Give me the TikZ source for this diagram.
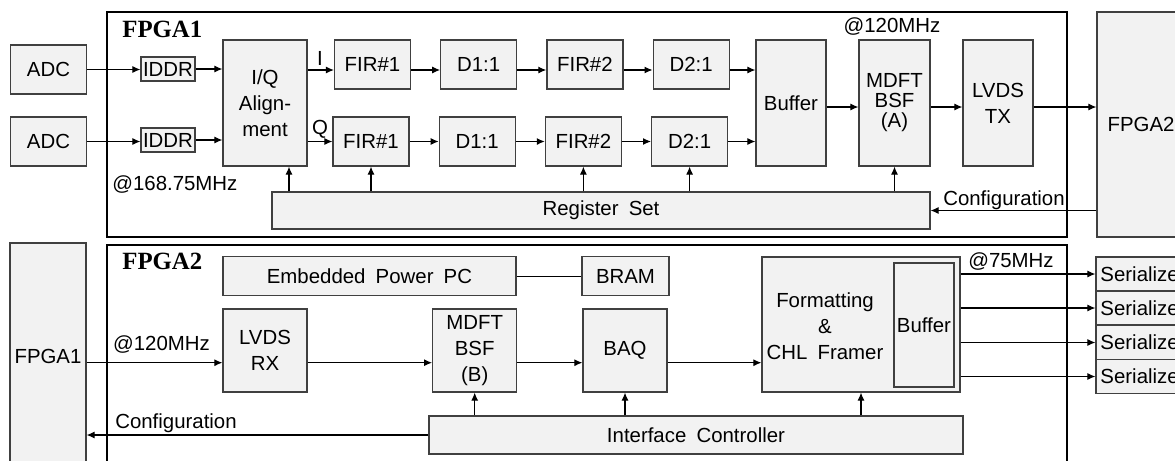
\documentclass[tikz,border=0pt]{standalone}
\usepackage{fontspec}
\setmainfont{Liberation Sans}[WordSpace=1.8]
\newfontfamily\titlefont{Liberation Serif}
\usepackage{tikz}
\usetikzlibrary{arrows.meta,positioning,calc}

\begin{document}
\begin{tikzpicture}[x=0.5pt,y=-0.5pt,
  every node/.style={font=\fontsize{10.2}{13}\selectfont},
  blk/.style={draw=black!75,fill=black!5,line width=0.6pt,inner sep=0pt,align=center},
  sbox/.style={blk,minimum width=38pt,minimum height=24.5pt},
  tbox/.style={blk,minimum width=35pt,minimum height=63pt},
  mbox/.style={blk,minimum width=42pt,minimum height=41.5pt},
  serbox/.style={blk,minimum width=47pt,minimum height=17pt},
  frame/.style={draw=black,line width=1pt},
  txt/.style={inner sep=0pt,align=center},
  tag/.style={inner sep=0pt,anchor=west,font=\titlefont\bfseries\fontsize{12.4}{14}\selectfont},
  arr/.style={draw,line width=0.55pt,-{Latex[length=4pt,width=3.5pt]}}]
\useasboundingbox (0,0) rectangle (1175,461);
\clip (0,0) rectangle (1175,461);

\draw[frame] (107,12) rectangle (1067,237);
\draw[frame] (107,245) rectangle (1067,480);
\node[tag] (tagA) at (122,29) {FPGA1};
\node[tag] (tagB) at (122,261) {FPGA2};

% FPGA1
\node[sbox] (adcA) at (48.5,69.5) {ADC};
\node[sbox] (adcB) at (48.5,141.5) {ADC};
\node[blk,minimum width=27pt,minimum height=12pt] (iddrA) at (168,69) {IDDR};
\node[blk,minimum width=27pt,minimum height=12pt] (iddrB) at (168,140) {IDDR};
\node[blk,minimum width=42pt,minimum height=63pt] (iq) at (265,103) {I/Q\\Align-\\ment};
\node[sbox] (firA) at (372.5,64.5) {FIR\#1};
\node[sbox,right=14.5pt of firA] (dA) {D1:1};
\node[sbox,right=14.5pt of dA] (fir2A) {FIR\#2};
\node[sbox,right=14.5pt of fir2A] (d2A) {D2:1};
\node[sbox] (firB) at (371,141.5) {FIR\#1};
\node[sbox,right=14.5pt of firB] (dB) {D1:1};
\node[sbox,right=14.5pt of dB] (fir2B) {FIR\#2};
\node[sbox,right=14.5pt of fir2B] (d2B) {D2:1};
\node[tbox] (buf) at (791,103) {Buffer};
\node[tbox,minimum width=35.5pt] (mdftA) at (894.5,103) {MDFT\\[-3pt]BSF\\[-3pt](A)};
\node[tbox] (lvdsTX) at (998,103) {LVDS\\TX};
\node[blk,minimum width=44pt,minimum height=112.5pt] (fpgaR) at (1141,124.5) {FPGA2};
\node[blk,minimum width=329pt,minimum height=18.5pt] (reg) at (601,210.5) {Register Set};

\node[txt] (lblI) at (320,58) {I};
\node[txt] (lblQ) at (320,129) {Q};
\node[txt,anchor=west] (clkA) at (112,185) {@168.75MHz};
\node[txt] (clkB) at (892,27) {@120MHz};
\node[txt] (cfgA) at (1004,200) {Configuration};

\coordinate (rowI) at (0,70);
\coordinate (rowA) at (0,107);
\coordinate (regI) at (289,0);

\draw[arr] (adcA.east) -- (adcA.east -| iddrA.west);
\draw[arr] (adcB.east) -- (adcB.east -| iddrB.west);
\draw[arr] (iddrA.east) -- (iddrA.east -| iq.west);
\draw[arr] (iddrB.east) -- (iddrB.east -| iq.west);
\draw[arr] (iq.east |- rowI) -- (firA.west |- rowI);
\draw[arr] (firA.east |- rowI) -- (dA.west |- rowI);
\draw[arr] (dA.east |- rowI) -- (fir2A.west |- rowI);
\draw[arr] (fir2A.east |- rowI) -- (d2A.west |- rowI);
\draw[arr] (d2A.east |- rowI) -- (buf.west |- rowI);
\draw[arr] (iq.east |- firB) -- (firB.west);
\draw[arr] (firB) -- (dB);
\draw[arr] (dB) -- (fir2B);
\draw[arr] (fir2B) -- (d2B);
\draw[arr] (d2B.east) -- (d2B.east -| buf.west);
\draw[arr] (buf.east |- rowA) -- (mdftA.west |- rowA);
\draw[arr] (mdftA.east |- rowA) -- (lvdsTX.west |- rowA);
\draw[arr] (lvdsTX.east |- rowA) -- (fpgaR.west |- rowA);
\draw[arr] (fpgaR.west |- reg) -- (reg.east);
\draw[arr] (reg.north -| regI) -- (iq.south -| regI);
\draw[arr] (reg.north -| firB) -- (firB.south);
\draw[arr] (reg.north -| fir2B) -- (fir2B.south);
\draw[arr] (reg.north -| d2B) -- (d2B.south);
\draw[arr] (reg.north -| mdftA) -- (mdftA.south);

% FPGA2
\node[blk,minimum width=38pt,minimum height=113.5pt] (fpgaL) at (48,356.5) {FPGA1};
\node[blk,minimum width=146.5pt,minimum height=19.5pt] (ppc) at (369.5,276.3) {Embedded Power PC};
\node[blk,minimum width=43.5pt,minimum height=19.5pt] (bram) at (625.5,276.3) {BRAM};
\node[mbox] (lvdsRX) at (265,350.5) {LVDS\\RX};
\node[mbox] (mdftB) at (474.7,350.5) {MDFT\\BSF\\(B)};
\node[mbox] (baq) at (625,350.5) {BAQ};
\node[blk,minimum width=99pt,minimum height=67.5pt] (fmt) at (861,324.5) {};
\node[blk,minimum width=30pt,minimum height=62pt] (fbuf) at (924,325) {Buffer};
\node[txt] (fmtText) at (825,326) {Formatting\\\&\\CHL Framer};
\node[serbox] (ser1) at (1143,274) {Serializer};
\node[serbox] (ser2) at (1143,308) {Serializer};
\node[serbox] (ser3) at (1143,342.5) {Serializer};
\node[serbox] (ser4) at (1143,376.5) {Serializer};
\node[blk,minimum width=267pt,minimum height=19pt] (ictl) at (696,435) {Interface Controller};

\node[txt] (clkC) at (161.5,345) {@120MHz};
\node[txt] (clkD) at (1011,262) {@75MHz};
\node[txt] (cfgB) at (176,423) {Configuration};

\coordinate (rowB) at (0,362.7);

\draw[line width=0.55pt] (ppc) -- (bram);
\draw[arr] (fpgaL.east |- rowB) -- (lvdsRX.west |- rowB);
\draw[arr] (lvdsRX.east |- rowB) -- (mdftB.west |- rowB);
\draw[arr] (mdftB.east |- rowB) -- (baq.west |- rowB);
\draw[arr] (baq.east |- rowB) -- (fmt.west |- rowB);
\draw[arr] (fmt.east |- ser1) -- (ser1.west);
\draw[arr] (fmt.east |- ser2) -- (ser2.west);
\draw[arr] (fmt.east |- ser3) -- (ser3.west);
\draw[arr] (fmt.east |- ser4) -- (ser4.west);
\draw[arr] (ictl.north -| mdftB) -- (mdftB.south);
\draw[arr] (ictl.north -| baq) -- (baq.south);
\draw[arr] (ictl.north -| fmt) -- (fmt.south);
\draw[arr] (ictl.west) -- (ictl.west -| fpgaL.east);
\end{tikzpicture}
\end{document}
